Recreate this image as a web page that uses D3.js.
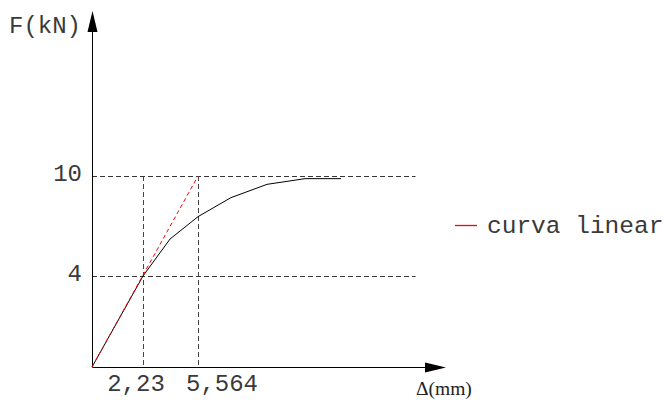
<!DOCTYPE html>
<html>
<head>
<meta charset="utf-8">
<script src="https://cdn.jsdelivr.net/npm/d3@7"></script>
<style>
html,body{margin:0;padding:0;background:#fff;}
svg{display:block;}
</style>
</head>
<body>
<svg id="chart" width="669" height="400"></svg>
<script>
// ---- data ----
const xTickValues = [2.23, 5.564];
const xTickLabels = ["2,23", "5,564"];
const yTickValues = [4, 10];
const yTickLabels = ["4", "10"];
const curveX = [0, 2.23, 3.87, 5.564, 7.56, 9.75, 12.05, 14.23];
const curveY = [0, 4, 6.22, 7.56, 8.7, 9.5, 9.84, 9.84];
const linearX = [0, 5.564];
const linearY = [0, 10];
const legendLabel = "curva linear";
const yAxisTitle = "F(kN)";
const xAxisTitle = "\u0394(mm)";

// ---- scales (schematic, piecewise) ----
const x = d3.scaleLinear().domain([0, 2.23, 5.564]).range([92, 143, 198]);
const y = d3.scaleLinear().domain([0, 4, 10]).range([367, 276, 176]);

const svg = d3.select("#chart");
const mono = "'Courier New','Liberation Mono',monospace";
const textColor = "#3a3a3a";

// gridlines (dashed)
const gridRight = 415.5;
yTickValues.forEach(v => {
  svg.append("line")
    .attr("x1", x(0)).attr("x2", gridRight)
    .attr("y1", Math.round(y(v)) + 0.5).attr("y2", Math.round(y(v)) + 0.5)
    .attr("stroke", "#333").attr("stroke-width", 1)
    .attr("stroke-dasharray", "5,3");
});
xTickValues.forEach(v => {
  svg.append("line")
    .attr("x1", Math.round(x(v)) + 0.5).attr("x2", Math.round(x(v)) + 0.5)
    .attr("y1", y(10)).attr("y2", y(0))
    .attr("stroke", "#444").attr("stroke-width", 1)
    .attr("stroke-dasharray", "5,3");
});

// axes lines with arrows
const ax0 = Math.round(x(0)) + 0.5, ay0 = Math.round(y(0)) + 0.5;
svg.append("line").attr("x1", ax0).attr("x2", ax0).attr("y1", ay0).attr("y2", 30)
  .attr("stroke", "#000").attr("stroke-width", 1);
svg.append("path").attr("d", `M${ax0},11 L${ax0 - 5},32 L${ax0 + 5},32 Z`).attr("fill", "#000");
svg.append("line").attr("x1", ax0).attr("x2", 428).attr("y1", ay0).attr("y2", ay0)
  .attr("stroke", "#000").attr("stroke-width", 1);
svg.append("path").attr("d", `M446,${ay0} L425,${ay0 - 5} L425,${ay0 + 5} Z`).attr("fill", "#000");

// curve
const curveData = curveX.map((d, i) => [d, curveY[i]]);
const line = d3.line().x(d => x(d[0])).y(d => y(d[1]));
svg.append("path").datum(curveData).attr("d", line)
  .attr("fill", "none").attr("stroke", "#000").attr("stroke-width", 1);

// linear (red dashed)
const linData = linearX.map((d, i) => [d, linearY[i]]);
svg.append("path").datum(linData).attr("d", line)
  .attr("fill", "none").attr("stroke", "#ff0000").attr("stroke-width", 1)
  .attr("stroke-dasharray", "4,3");

// y tick labels
svg.selectAll("text.ytick").data(yTickValues).enter().append("text")
  .attr("class", "ytick")
  .attr("x", 82).attr("y", d => y(d) + 4.5)
  .attr("text-anchor", "end")
  .attr("font-family", mono).attr("font-size", 24).attr("fill", textColor)
  .text((d, i) => yTickLabels[i]);

// x tick labels
const xOffsets = [-7, 24];
svg.selectAll("text.xtick").data(xTickValues).enter().append("text")
  .attr("class", "xtick")
  .attr("x", (d, i) => x(d) + xOffsets[i]).attr("y", 391)
  .attr("text-anchor", "middle")
  .attr("font-family", mono).attr("font-size", 24).attr("fill", textColor)
  .text((d, i) => xTickLabels[i]);

// axis titles
svg.append("text").attr("x", 9).attr("y", 33)
  .attr("font-family", mono).attr("font-size", 24).attr("fill", textColor)
  .text(yAxisTitle);
svg.append("text").attr("x", 416).attr("y", 395)
  .attr("font-family", "'Liberation Serif','Times New Roman',serif").attr("font-size", 19.5).attr("fill", "#222")
  .text(xAxisTitle);

// legend
svg.append("line").attr("x1", 455).attr("x2", 477).attr("y1", 225.5).attr("y2", 225.5)
  .attr("stroke", "#ff0000").attr("stroke-width", 1.3);
svg.append("text").attr("x", 487).attr("y", 233)
  .attr("font-family", mono).attr("font-size", 24.5).attr("fill", textColor)
  .text(legendLabel);
</script>
</body>
</html>
